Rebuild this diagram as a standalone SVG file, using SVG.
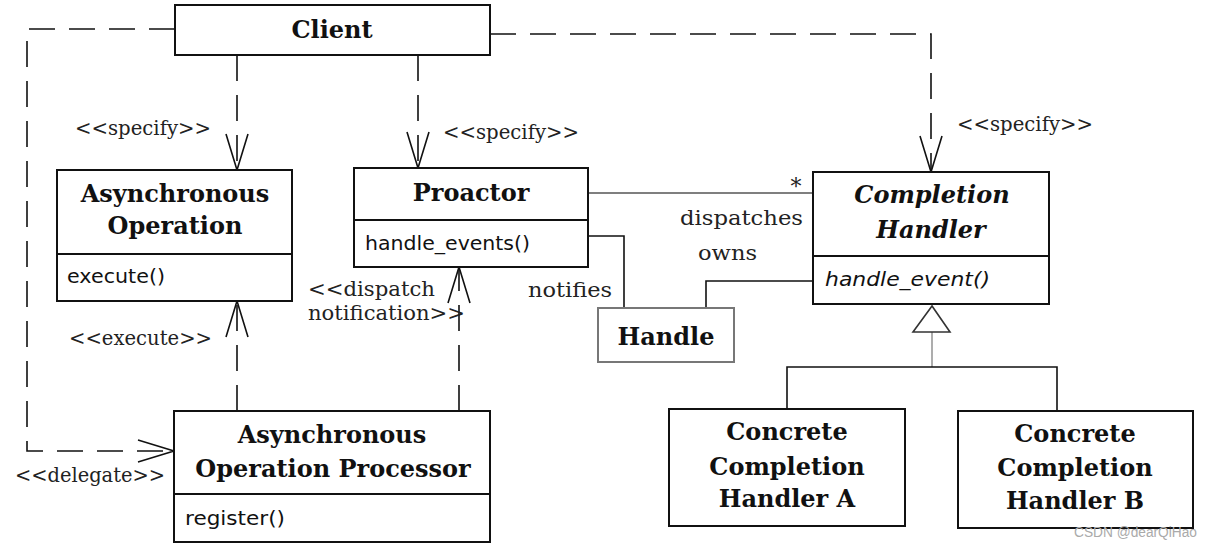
<svg xmlns="http://www.w3.org/2000/svg" width="1213" height="549" viewBox="0 0 1213 549">
<style>
.box{fill:#fff;stroke:#111;stroke-width:2}
.div{stroke:#111;stroke-width:2}
.name{font-family:"DejaVu Serif",serif;font-weight:bold;font-size:24px;fill:#111;text-anchor:middle}
.it{font-style:italic}
.meth{font-family:"DejaVu Sans",sans-serif;font-size:20px;fill:#111}
.lbl{font-family:"DejaVu Serif",serif;font-size:20px;fill:#222}
.dash{fill:none;stroke:#111;stroke-width:1.6;stroke-dasharray:26 14}
.solid{fill:none;stroke:#111;stroke-width:1.6}
.wm{font-family:"Liberation Sans",sans-serif;font-size:14px;fill:#aaa}
</style>
<defs>
<marker id="open" markerUnits="userSpaceOnUse" markerWidth="40" markerHeight="24" refX="36" refY="11" orient="auto" viewBox="0 0 40 24" overflow="visible">
<path d="M0,0 L36,11 L0,22" fill="none" stroke="#111" stroke-width="1.6"/>
</marker>
</defs>
<rect width="1213" height="549" fill="#fff"/>

<g id="connectors">
<path class="dash" d="M237,55 V170" marker-end="url(#open)"/>
<path class="dash" d="M418,55 V168" marker-end="url(#open)"/>
<path class="dash" d="M490,34 H931 V172" marker-end="url(#open)"/>
<path class="dash" d="M175,29 H27 V451 H174" marker-end="url(#open)"/>
<path class="dash" d="M237,411 V301" marker-end="url(#open)"/>
<path class="dash" d="M459,411 V267" marker-end="url(#open)"/>
<path class="solid" style="stroke:#555" d="M588,193 H813"/>
<path class="solid" d="M588,236 H624 V308"/>
<path class="solid" d="M813,281 H706 V308"/>
<path class="solid" style="stroke:#999" d="M932,332 V367"/>
<path class="solid" d="M787,409 V367 H1057 V411"/>
<polygon points="932,306 913,332 950,332" fill="#fff" stroke="#333" stroke-width="1.6"/>
<text class="lbl" x="75" y="135" textLength="136" lengthAdjust="spacingAndGlyphs">&lt;&lt;specify&gt;&gt;</text>
<text class="lbl" x="443" y="139" textLength="136" lengthAdjust="spacingAndGlyphs">&lt;&lt;specify&gt;&gt;</text>
<text class="lbl" x="957" y="131" textLength="136" lengthAdjust="spacingAndGlyphs">&lt;&lt;specify&gt;&gt;</text>
<text class="lbl" x="69" y="345" textLength="143" lengthAdjust="spacingAndGlyphs">&lt;&lt;execute&gt;&gt;</text>
<text class="lbl" x="15" y="482" textLength="150" lengthAdjust="spacingAndGlyphs">&lt;&lt;delegate&gt;&gt;</text>
<text class="lbl" x="308" y="296" textLength="127" lengthAdjust="spacingAndGlyphs">&lt;&lt;dispatch</text>
<text class="lbl" x="308" y="320" textLength="157" lengthAdjust="spacingAndGlyphs">notification&gt;&gt;</text>
<text class="lbl" x="528" y="297" textLength="84" lengthAdjust="spacingAndGlyphs">notifies</text>
<text class="lbl" x="680" y="225" textLength="123" lengthAdjust="spacingAndGlyphs">dispatches</text>
<text class="lbl" x="698" y="260" textLength="59" lengthAdjust="spacingAndGlyphs">owns</text>
<text class="lbl" x="796" y="194" style="font-size:22px;text-anchor:middle">*</text>
</g>

<g id="client">
<rect class="box" x="175" y="5" width="315" height="50"/>
<text class="name" x="332" y="38">Client</text>
</g>

<g id="async-operation">
<rect class="box" x="57" y="170" width="235" height="131"/>
<line class="div" x1="57" y1="254" x2="292" y2="254"/>
<text class="name" x="175" y="202">Asynchronous</text>
<text class="name" x="175" y="234">Operation</text>
<text class="meth" x="67" y="283" textLength="98" lengthAdjust="spacingAndGlyphs">execute()</text>
</g>

<g id="proactor">
<rect class="box" x="354" y="168" width="234" height="99"/>
<line class="div" x1="354" y1="220" x2="588" y2="220"/>
<text class="name" x="471" y="201">Proactor</text>
<text class="meth" x="365" y="250" textLength="165" lengthAdjust="spacingAndGlyphs">handle_events()</text>
</g>

<g id="completion-handler">
<rect class="box" x="813" y="172" width="236" height="132"/>
<line class="div" x1="813" y1="256" x2="1049" y2="256"/>
<text class="name it" x="932" y="203">Completion</text>
<text class="name it" x="931" y="238">Handler</text>
<text class="meth it" x="825" y="286" textLength="165" lengthAdjust="spacingAndGlyphs">handle_event()</text>
</g>

<g id="handle">
<rect class="box" style="stroke:#777" x="598" y="308" width="136" height="54"/>
<text class="name" x="666" y="345">Handle</text>
</g>

<g id="async-operation-processor">
<rect class="box" x="174" y="411" width="316" height="131"/>
<line class="div" x1="174" y1="494" x2="490" y2="494"/>
<text class="name" x="332" y="443">Asynchronous</text>
<text class="name" x="333" y="477">Operation Processor</text>
<text class="meth" x="185" y="525" textLength="100" lengthAdjust="spacingAndGlyphs">register()</text>
</g>

<g id="concrete-a">
<rect class="box" x="669" y="409" width="236" height="117"/>
<text class="name" x="787" y="440">Concrete</text>
<text class="name" x="787" y="475">Completion</text>
<text class="name" x="787" y="507">Handler A</text>
</g>

<g id="concrete-b">
<rect class="box" x="958" y="411" width="235" height="117"/>
<text class="name" x="1075" y="442">Concrete</text>
<text class="name" x="1075" y="476">Completion</text>
<text class="name" x="1075" y="509">Handler B</text>
</g>

<text class="wm" x="1074" y="537" textLength="123" lengthAdjust="spacingAndGlyphs">CSDN @dearQiHao</text>
</svg>
